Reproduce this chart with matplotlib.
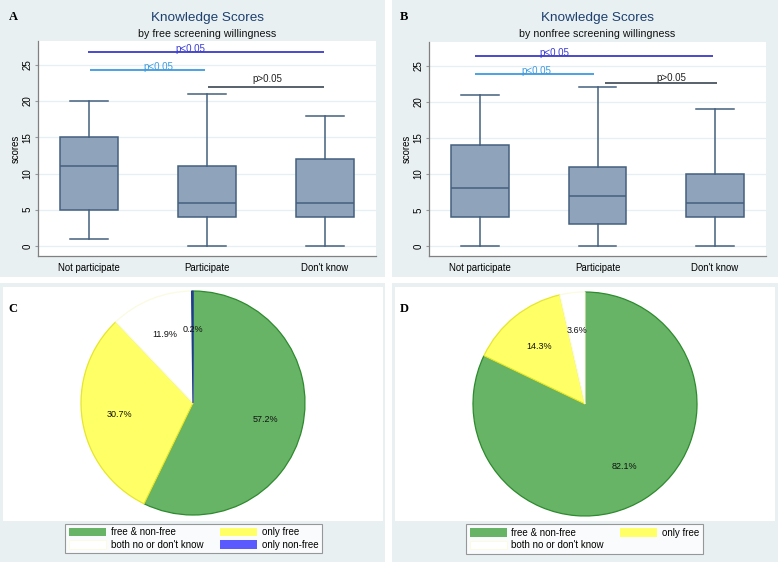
import matplotlib
matplotlib.use("Agg")

import matplotlib.pyplot as plt
from matplotlib.patches import Rectangle, Patch

W, H = 778, 562

# box plot data (panel A: free screening, panel B: nonfree screening)
groups = ["Not participate", "Participate", "Don't know"]
free_q1 = [5, 4, 4]
free_med = [11, 6, 6]
free_q3 = [15, 11, 12]
free_lo = [1, 0, 0]
free_hi = [20, 21, 18]

nonfree_q1 = [4, 3, 4]
nonfree_med = [8, 7, 6]
nonfree_q3 = [14, 11, 10]
nonfree_lo = [0, 0, 0]
nonfree_hi = [21, 22, 19]

# significance brackets: (x start, x end, y, label, label x, label y)
free_brackets = [
    (0.99, 2.99, 26.8, "p<0.05", 1.86, 26.8),
    (1.01, 1.98, 24.3, "p<0.05", 1.59, 24.3),
    (2.01, 2.99, 22.0, "p>0.05", 2.51, 22.6),
]
nonfree_brackets = [
    (0.96, 2.98, 26.4, "p<0.05", 1.63, 26.4),
    (0.96, 1.97, 23.8, "p<0.05", 1.48, 23.8),
    (2.06, 3.02, 22.6, "p>0.05", 2.63, 22.9),
]

# pie data
pie_c_labels = ["free & non-free", "only free", "both no or don't know", "only non-free"]
pie_c_values = [57.2, 30.7, 11.9, 0.2]
pie_d_labels = ["free & non-free", "only free", "both no or don't know"]
pie_d_values = [82.1, 14.3, 3.6]

BG = "#e8f0f2"
BOX_FILL = "#8fa3ba"
BOX_EDGE = "#44607f"
BRACKET_COLORS = ["#3b3bc8", "#3d9be0", "#4a5560"]
LABEL_COLORS = ["#3b3bd8", "#3d9be0", "#222222"]
SLICE_FILL = ["#67b467", "#ffff66", "#ffffff", "#5a5aff"]
SLICE_EDGE = ["#2e8a2e", "#e6e62e", "#fbfbe0", "#1f3a93"]

plt.rcParams["font.family"] = ["Liberation Sans", "DejaVu Sans"]


def fig_rect(x0, y0, x1, y1):
    # pixel box (top-left origin) -> figure fraction [l, b, w, h]
    return [x0 / W, 1 - y1 / H, (x1 - x0) / W, (y1 - y0) / H]


fig = plt.figure(figsize=(W / 100, H / 100), dpi=100)
fig.patch.set_facecolor("white")

# panel backgrounds (behind the axes)
for x0, y0, x1, y1 in [(0, 0, 385, 277), (392, 0, 778, 277),
                       (0, 283, 385, 562), (392, 283, 778, 562)]:
    l, b, w, h = fig_rect(x0, y0, x1, y1)
    fig.patches.append(Rectangle((l, b), w, h, transform=fig.transFigure,
                                 facecolor=BG, edgecolor="none", zorder=-2))
for x0, y0, x1, y1 in [(3, 287, 383, 521), (395, 287, 775, 521)]:
    l, b, w, h = fig_rect(x0, y0, x1, y1)
    fig.patches.append(Rectangle((l, b), w, h, transform=fig.transFigure,
                                 facecolor="white", edgecolor="none", zorder=-1))


def box_panel(rect, q1, med, q3, lo, hi, brackets, title, subtitle, letter, letter_xy):
    ax = fig.add_axes(fig_rect(*rect))
    stats = []
    for i in range(len(groups)):
        stats.append(dict(med=med[i], q1=q1[i], q3=q3[i],
                          whislo=lo[i], whishi=hi[i], fliers=[]))
    ax.bxp(stats, positions=[1, 2, 3], widths=0.49, capwidths=0.32,
           patch_artist=True, showfliers=False,
           boxprops=dict(facecolor=BOX_FILL, edgecolor=BOX_EDGE, linewidth=1.1),
           medianprops=dict(color=BOX_EDGE, linewidth=1.1),
           whiskerprops=dict(color=BOX_EDGE, linewidth=1.1),
           capprops=dict(color=BOX_EDGE, linewidth=1.1))

    for (x0, x1, y, lab, lx, ly), lc, tc in zip(brackets, BRACKET_COLORS, LABEL_COLORS):
        ax.plot([x0, x1], [y, y], color=lc, linewidth=1.3, solid_capstyle="butt")
        ax.text(lx, ly, lab, color=tc, fontsize=7, ha="center", va="baseline")

    ax.set_xlim(0.565, 3.435)
    ax.set_ylim(-1.38, 28.3)
    ax.set_xticks([1, 2, 3])
    ax.set_xticklabels(groups, fontsize=6.9)
    ax.set_yticks([0, 5, 10, 15, 20, 25])
    ax.set_yticklabels(["0", "5", "10", "15", "20", "25"], fontsize=7,
                       rotation=90, va="center")
    ax.tick_params(axis="x", length=0, pad=5)
    ax.tick_params(axis="y", length=2.5, width=0.8, color="#999999", pad=1.5)
    ax.set_ylabel("scores", fontsize=6.9, labelpad=1)
    ax.grid(axis="y", color="#e6eff2", linewidth=0.9)
    ax.set_axisbelow(True)
    for s in ["top", "right"]:
        ax.spines[s].set_visible(False)
    for s in ["left", "bottom"]:
        ax.spines[s].set_color("#808080")
        ax.spines[s].set_linewidth(0.9)

    cx = (rect[0] + rect[2]) / 2
    fig.text(cx / W, 1 - 18 / H, title, fontsize=9.7, color="#1d3f6e",
             ha="center", va="center")
    fig.text(cx / W, 1 - 34 / H, subtitle, fontsize=7.7, color="#111111",
             ha="center", va="center")
    fig.text(letter_xy[0] / W, 1 - letter_xy[1] / H, letter, fontsize=9,
             fontweight="bold", family="Liberation Serif", ha="center", va="center")


def pie_panel(center, values, labels, legend_order, legend_center, letter, letter_xy):
    r = 112
    cx, cy = center
    ax = fig.add_axes(fig_rect(cx - r, cy - r, cx + r, cy + r))
    n = len(values)
    wedges, _, autotexts = ax.pie(
        values, colors=SLICE_FILL[:n], startangle=90, counterclock=False,
        autopct=lambda p: f"{p:.1f}%", pctdistance=0.66,
        textprops=dict(fontsize=6.5, color="#111111"),
        wedgeprops=dict(linewidth=0.9), frame=False)
    for w, ec in zip(wedges, SLICE_EDGE):
        w.set_edgecolor(ec)
    ax.set_xlim(-1, 1)
    ax.set_ylim(-1, 1)
    ax.axis("off")

    handles = [Patch(facecolor=SLICE_FILL[i], edgecolor=SLICE_EDGE[i] if i == 2 else "none",
                     linewidth=0.6, label=labels[i]) for i in legend_order]
    leg = fig.legend(handles=handles, ncol=2, loc="center",
                     bbox_to_anchor=(legend_center[0] / W, 1 - legend_center[1] / H),
                     bbox_transform=fig.transFigure, fontsize=7, frameon=True,
                     fancybox=False, edgecolor="#808080", handlelength=3.8,
                     handleheight=1.0, handletextpad=0.5, columnspacing=1.7,
                     labelspacing=0.25, borderpad=0.35, borderaxespad=0)
    leg.get_frame().set_linewidth(0.8)

    fig.text(letter_xy[0] / W, 1 - letter_xy[1] / H, letter, fontsize=9,
             fontweight="bold", family="Liberation Serif", ha="center", va="center")


box_panel((38, 41, 376, 256), free_q1, free_med, free_q3, free_lo, free_hi,
          free_brackets, "Knowledge Scores", "by free screening willingness",
          "A", (13, 17))
box_panel((429, 42, 766, 256), nonfree_q1, nonfree_med, nonfree_q3, nonfree_lo,
          nonfree_hi, nonfree_brackets, "Knowledge Scores",
          "by nonfree screening willingness", "B", (404, 17))

pie_panel((193, 403), pie_c_values, pie_c_labels, [0, 2, 1, 3], (193.5, 538.5), "C", (13, 309))
pie_panel((585, 404), pie_d_values, pie_d_labels, [0, 2, 1], (584.5, 539), "D", (404, 309))

fig.savefig("out.png", dpi=100)
